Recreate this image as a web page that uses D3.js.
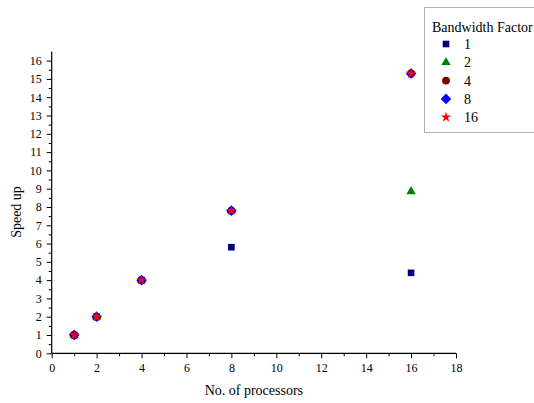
<!DOCTYPE html>
<html>
<head>
<meta charset="utf-8">
<script src="https://cdn.jsdelivr.net/npm/d3@7"></script>
<style>
  html, body { margin: 0; padding: 0; background: #fff; }
  svg { display: block; }
  text { font-family: "Liberation Serif", "Times New Roman", serif; fill: #000; }
</style>
</head>
<body>
<script>
// Speed-up measurements per bandwidth factor
const processors = [1, 2, 4, 8, 16];
const factorNames = ["1", "2", "4", "8", "16"];
const speedBw1  = [1, 2, 4, 5.8, 4.4];
const speedBw2  = [1, 2, 4, 7.8, 8.85];
const speedBw4  = [1, 2, 4, 7.8, 15.3];
const speedBw8  = [1, 2, 4, 7.8, 15.3];
const speedBw16 = [1, 2, 4, 7.8, 15.3];
const xTicks = [0, 2, 4, 6, 8, 10, 12, 14, 16, 18];
const yTicks = d3.range(0, 17, 1);

const W = 534, H = 403;
const svg = d3.select("body").append("svg").attr("width", W).attr("height", H);

const x = d3.scaleLinear().domain([0, 18]).range([51.7, 456]);
const y = d3.scaleLinear().domain([0, 16.5]).range([353.3, 51.5]);

// square diamond (a square turned 45 degrees)
const squareDiamond = {
  draw(context, size) {
    const r = Math.sqrt(size / 2);
    context.moveTo(0, -r);
    context.lineTo(r, 0);
    context.lineTo(0, r);
    context.lineTo(-r, 0);
    context.closePath();
  }
};

const series = [
  { name: factorNames[0], values: speedBw1,  type: d3.symbolSquare,   size: 44, color: "#000080" },
  { name: factorNames[1], values: speedBw2,  type: d3.symbolTriangle, size: 38, color: "#008000" },
  { name: factorNames[2], values: speedBw4,  type: d3.symbolCircle,   size: 48, color: "#800000" },
  { name: factorNames[3], values: speedBw8,  type: squareDiamond,     size: 56, color: "#0000ff" },
  { name: factorNames[4], values: speedBw16, type: d3.symbolStar,     size: 34, color: "#ff0000" }
];

// X axis with minor ticks at odd values
const xAxis = svg.append("g").attr("transform", `translate(0,${y(0)})`)
  .call(d3.axisBottom(x).tickValues(xTicks).tickSize(5).tickPadding(5).tickFormat(d3.format("d")));
svg.append("g").attr("transform", `translate(0,${y(0)})`)
  .call(d3.axisBottom(x).tickValues(d3.range(1, 18, 2)).tickSize(3).tickFormat(""))
  .call(g => g.select(".domain").remove());

// Y axis with minor ticks at half steps
const yAxis = svg.append("g").attr("transform", `translate(${x(0)},0)`)
  .call(d3.axisLeft(y).tickValues(yTicks).tickSize(5).tickPadding(5).tickFormat(d3.format("d")));
svg.append("g").attr("transform", `translate(${x(0)},0)`)
  .call(d3.axisLeft(y).tickValues(d3.range(0.5, 16.5, 1)).tickSize(3).tickFormat(""))
  .call(g => g.select(".domain").remove());

svg.selectAll(".domain").attr("stroke", "#000").attr("stroke-width", 1.2);
svg.selectAll(".tick line").attr("stroke", "#000").attr("stroke-width", 1);
svg.selectAll(".tick text").style("font-size", "12px").style("font-family", "Liberation Serif, serif");
// plain axis lines without end caps
xAxis.select(".domain").attr("d", `M${x(0)},0H${x(18)}`);
yAxis.select(".domain").attr("d", `M0,${y(0)}V${y(16.5)}`);

// Axis titles
svg.append("text").attr("x", (x(0) + x(18)) / 2).attr("y", 395)
  .attr("text-anchor", "middle").style("font-size", "14px").text("No. of processors");
svg.append("text").attr("transform", "translate(21,212) rotate(-90)")
  .attr("text-anchor", "middle").style("font-size", "14px").text("Speed up");

// Data points
series.forEach(s => {
  const sym = d3.symbol().type(s.type).size(s.size);
  svg.append("g").selectAll("path").data(processors.map((p, i) => [p, s.values[i]]))
    .join("path")
    .attr("transform", d => `translate(${x(d[0])},${y(d[1])})`)
    .attr("d", sym)
    .attr("fill", s.color);
});

// Legend
const legend = svg.append("g");
legend.append("rect").attr("x", 424.5).attr("y", 7.5).attr("width", 130).attr("height", 125)
  .attr("fill", "#fff").attr("stroke", "#b0b0b0").attr("stroke-width", 1);
legend.append("text").attr("x", 432).attr("y", 32).style("font-size", "14px").text("Bandwidth Factor");
series.forEach((s, i) => {
  const cy = 44 + i * 18.3;
  legend.append("path").attr("transform", `translate(446,${cy})`)
    .attr("d", d3.symbol().type(s.type).size(s.size)).attr("fill", s.color);
  legend.append("text").attr("x", 464).attr("y", cy + 5).style("font-size", "14px").text(s.name);
});
</script>
</body>
</html>
